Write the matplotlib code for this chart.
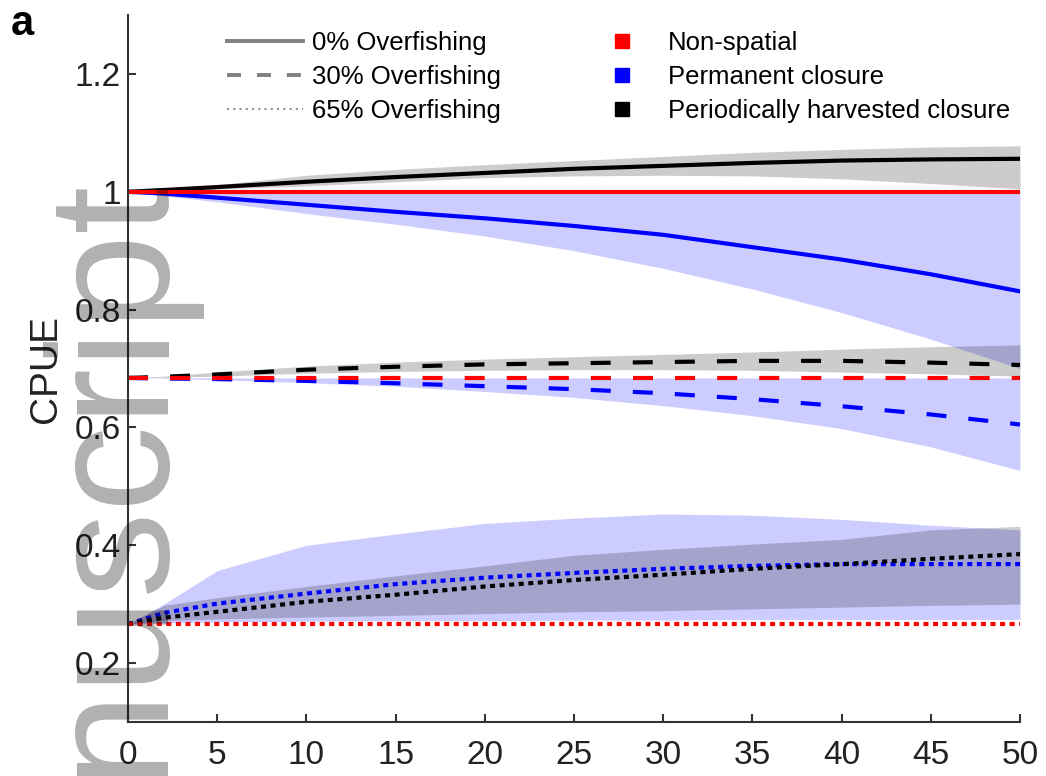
import matplotlib
matplotlib.use('Agg')
import matplotlib.pyplot as plt
from matplotlib.lines import Line2D

plt.rcParams['font.family'] = ['Liberation Sans', 'DejaVu Sans']

years = [0, 2, 5, 10, 15, 20, 25, 30, 35, 40, 45, 50]

# 0% overfishing (solid)
red_0 = [1.0] * 12
black_0 = [1.0, 1.003, 1.008, 1.017, 1.025, 1.032, 1.039, 1.044, 1.049, 1.053, 1.055, 1.056]
black_0_hi = [1.0, 1.004, 1.012, 1.028, 1.038, 1.046, 1.053, 1.060, 1.067, 1.072, 1.076, 1.078]
black_0_lo = [1.0, 1.002, 1.005, 1.010, 1.017, 1.024, 1.027, 1.028, 1.027, 1.022, 1.014, 1.005]
blue_0 = [1.0, 0.997, 0.990, 0.978, 0.966, 0.955, 0.942, 0.927, 0.906, 0.885, 0.860, 0.831]
blue_0_hi = [1.0] * 12
blue_0_lo = [1.0, 0.993, 0.983, 0.963, 0.945, 0.925, 0.900, 0.870, 0.835, 0.795, 0.750, 0.700]

# 30% overfishing (dashed)
red_30 = [0.684] * 12
black_30 = [0.684, 0.686, 0.690, 0.698, 0.703, 0.707, 0.709, 0.711, 0.713, 0.713, 0.710, 0.706]
black_30_hi = [0.684, 0.687, 0.694, 0.704, 0.711, 0.716, 0.720, 0.724, 0.728, 0.733, 0.737, 0.740]
black_30_lo = [0.684, 0.685, 0.687, 0.692, 0.695, 0.697, 0.698, 0.698, 0.697, 0.694, 0.691, 0.687]
blue_30 = [0.684, 0.683, 0.682, 0.679, 0.675, 0.670, 0.665, 0.658, 0.648, 0.636, 0.622, 0.605]
blue_30_hi = [0.684] * 12
blue_30_lo = [0.684, 0.683, 0.681, 0.676, 0.670, 0.661, 0.651, 0.637, 0.620, 0.598, 0.567, 0.527]

# 65% overfishing (dotted)
red_65 = [0.266] * 12
black_65 = [0.266, 0.277, 0.287, 0.304, 0.316, 0.330, 0.341, 0.350, 0.360, 0.368, 0.377, 0.385]
black_65_hi = [0.266, 0.298, 0.311, 0.330, 0.348, 0.365, 0.383, 0.393, 0.402, 0.410, 0.426, 0.432]
black_65_lo = [0.266, 0.272, 0.275, 0.278, 0.281, 0.284, 0.287, 0.289, 0.292, 0.295, 0.298, 0.300]
blue_65 = [0.266, 0.285, 0.301, 0.318, 0.334, 0.345, 0.353, 0.360, 0.365, 0.368, 0.368, 0.368]
blue_65_hi = [0.266, 0.300, 0.357, 0.400, 0.419, 0.437, 0.446, 0.453, 0.451, 0.444, 0.434, 0.426]
blue_65_lo = [0.266, 0.268, 0.270, 0.271, 0.272, 0.272, 0.273, 0.273, 0.274, 0.274, 0.274, 0.274]

yticks = [0.2, 0.4, 0.6, 0.8, 1.0, 1.2]
ytick_labels = ['0.2', '0.4', '0.6', '0.8', '1', '1.2']
xticks = [0, 5, 10, 15, 20, 25, 30, 35, 40, 45, 50]

dashed = (0, (4.8, 5.3))
dotted = (0, (1.2, 1.1))
lw = 3

fig = plt.figure(figsize=(10.46, 7.76), dpi=100)
ax = fig.add_axes([0.1224, 0.0696, 0.8527, 0.911])

# confidence bands
for lo, hi in [(blue_0_lo, blue_0_hi), (blue_30_lo, blue_30_hi), (blue_65_lo, blue_65_hi)]:
    ax.fill_between(years, lo, hi, color='blue', alpha=0.2, linewidth=0)
for lo, hi in [(black_0_lo, black_0_hi), (black_30_lo, black_30_hi), (black_65_lo, black_65_hi)]:
    ax.fill_between(years, lo, hi, color='black', alpha=0.2, linewidth=0)

# mean trajectories
for ls, blue, black, red in [('-', blue_0, black_0, red_0),
                             (dashed, blue_30, black_30, red_30),
                             (dotted, blue_65, black_65, red_65)]:
    ax.plot(years, blue, color='blue', lw=lw, ls=ls)
    ax.plot(years, black, color='black', lw=lw, ls=ls)
    ax.plot(years, red, color='red', lw=lw, ls=ls)

ax.set_xlim(0, 50)
ax.set_ylim(0.1, 1.3)
ax.set_xticks(xticks)
ax.set_yticks(yticks)
ax.set_yticklabels(ytick_labels)
ax.spines['top'].set_visible(False)
ax.spines['right'].set_visible(False)
for s in ['left', 'bottom']:
    ax.spines[s].set_linewidth(1.5)
    ax.spines[s].set_color('#333333')
ax.tick_params(direction='in', length=6, width=1.5, colors='#333333', labelsize=24,
               labelcolor='#222222')
ax.tick_params(axis='x', pad=13)
ax.tick_params(axis='y', pad=5)
ax.set_ylabel('CPUE', fontsize=28, color='#222222', labelpad=8)

# legends
style_handles = [
    Line2D([], [], color='#808080', lw=2.8),
    Line2D([], [], color='#808080', lw=2.8, ls=(0, (3.6, 4.1))),
    Line2D([], [], color='#909090', lw=1.5, ls=(0, (1, 2))),
]
leg1 = ax.legend(style_handles, ['0% Overfishing', '30% Overfishing', '65% Overfishing'],
                 loc='upper left', bbox_to_anchor=(0.217, 0.96), bbox_transform=fig.transFigure,
                 frameon=False, fontsize=18.5, handlelength=2.96, handletextpad=0.35,
                 labelspacing=0.38, borderpad=0, borderaxespad=0)
ax.add_artist(leg1)

mgmt_handles = [
    Line2D([], [], color='red', marker='s', ls='none', markersize=10.5),
    Line2D([], [], color='blue', marker='s', ls='none', markersize=10.5),
    Line2D([], [], color='black', marker='s', ls='none', markersize=10.5),
]
ax.legend(mgmt_handles, ['Non-spatial', 'Permanent closure', 'Periodically harvested closure'],
          loc='upper left', bbox_to_anchor=(0.5824, 0.96), bbox_transform=fig.transFigure,
          frameon=False, fontsize=18.5, handlelength=1.0, handletextpad=1.29,
          labelspacing=0.38, borderpad=0, borderaxespad=0)

fig.text(0.01, 0.995, 'a', fontsize=30, fontweight='bold', va='top', ha='left')

# watermark remnant of "Accepted Manuscript"
fig.text(0.151, -0.001, 'nuscript', fontsize=124, color='black', alpha=0.31,
         rotation=90, rotation_mode='anchor', ha='left', va='baseline')

fig.savefig('out.png', dpi=100)
